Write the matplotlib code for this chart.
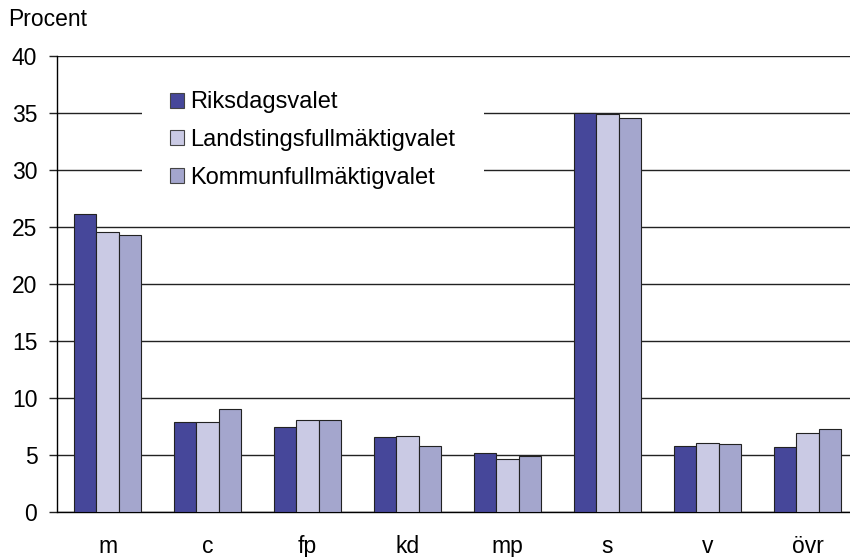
import matplotlib
matplotlib.use("Agg")
import matplotlib.pyplot as plt
import numpy as np

categories = ["m", "c", "fp", "kd", "mp", "s", "v", "övr"]
riksdag = [26.2, 7.9, 7.5, 6.6, 5.2, 35.0, 5.8, 5.7]
landsting = [24.6, 7.9, 8.1, 6.7, 4.7, 34.9, 6.1, 7.0]
kommun = [24.3, 9.1, 8.1, 5.8, 4.9, 34.6, 6.0, 7.3]
series_names = ["Riksdagsvalet", "Landstingsfullmäktigvalet", "Kommunfullmäktigvalet"]
colors = ["#46479A", "#CACAE4", "#A4A6CD"]
yticks = [0, 5, 10, 15, 20, 25, 30, 35, 40]

plt.rcParams['font.family'] = ['Liberation Sans', 'DejaVu Sans']

W, H = 850, 557
fig = plt.figure(figsize=(W / 100, H / 100), dpi=100)
left_px, right_px = 57.5, 857.5
top_px, bottom_px = 56.3, 512.3
ax = fig.add_axes([left_px / W, 1 - bottom_px / H, (right_px - left_px) / W, (bottom_px - top_px) / H])

x = np.arange(len(categories))
bw = 0.222
for i, (vals, name, col) in enumerate(zip([riksdag, landsting, kommun], series_names, colors)):
    ax.bar(x + (i - 1) * bw, vals, bw, color=col, edgecolor="#222222", linewidth=0.8,
           label=name, zorder=3)

ax.set_xlim(-0.5, len(categories) - 0.5)
ax.set_ylim(0, 40)
ax.set_yticks(yticks)
ax.set_xticks(x)
ax.set_xticklabels(categories)
ax.yaxis.grid(True, color="#222222", linewidth=1.0, zorder=0)
ax.set_axisbelow(True)
for s in ["top", "right"]:
    ax.spines[s].set_visible(False)
ax.spines["left"].set_color("black")
ax.spines["bottom"].set_color("black")
ax.spines["left"].set_linewidth(1.0)
ax.spines["bottom"].set_linewidth(1.0)
ax.tick_params(axis="y", length=6, width=1.0, pad=8.5, labelsize=16.5, color="#222222")
ax.tick_params(axis="x", length=0, pad=16.5, labelsize=16.5)

leg = ax.legend(loc="upper left", bbox_to_anchor=((142 - left_px) / (right_px - left_px), 0.985),
                frameon=True, fancybox=False, fontsize=17, handlelength=0.6, handleheight=0.6,
                handletextpad=0.25, labelspacing=0.66, borderpad=1.2, borderaxespad=0)
leg.get_frame().set_facecolor("white")
leg.get_frame().set_edgecolor("none")
leg.get_frame().set_alpha(1)
for h in leg.legend_handles:
    h.set_edgecolor("#444444")
    h.set_linewidth(0.8)

fig.text(8 / W, 1 - 20 / H, "Procent", fontsize=16.5, va="center", ha="left")

fig.savefig("out.png", dpi=100)
